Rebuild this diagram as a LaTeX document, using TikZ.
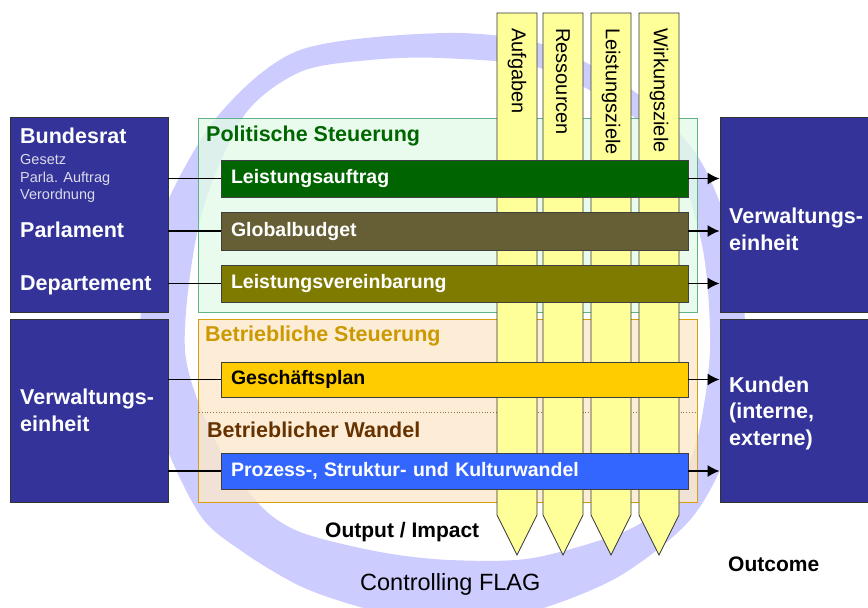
\documentclass[tikz,border=0pt]{standalone}
\usepackage{fontspec}
\setmainfont{Liberation Sans}
\usetikzlibrary{arrows.meta}

\definecolor{unitblue}{HTML}{333399}
\definecolor{ringblue}{HTML}{CCCCFF}
\definecolor{pengelb}{HTML}{FFFF99}
\definecolor{politfill}{HTML}{E2FAE8}
\definecolor{politline}{HTML}{5FB38A}
\definecolor{politgreen}{HTML}{006600}
\definecolor{betrfill}{HTML}{FCE8CC}
\definecolor{betrline}{HTML}{D4A010}
\definecolor{betrgold}{HTML}{CC9900}
\definecolor{wandelbrown}{HTML}{663300}
\definecolor{auftragc}{HTML}{006400}
\definecolor{budgetc}{HTML}{665F35}
\definecolor{vereinbc}{HTML}{7F7A00}
\definecolor{planc}{HTML}{FFCC00}
\definecolor{wandelc}{HTML}{3366FF}
\definecolor{smallgray}{HTML}{DADAEA}

\begin{document}
\begin{tikzpicture}
		[x=1pt,y=-1pt,every node/.style={inner sep=0pt},
		unit/.style={draw=black!80,fill=unitblue,line width=0.8pt},
		panel/.style={line width=1pt,fill opacity=0.8},
		bar/.style={draw=black!75,line width=0.7pt,minimum height=37pt,text width=447pt,inner xsep=10pt,align=left,font=\fontsize{19.5}{22}\bfseries\selectfont,text=white},
		head/.style={anchor=base west,font=\fontsize{21.5}{27}\bfseries\selectfont,text=white,align=left},
		small/.style={anchor=base west,font=\fontsize{14.5}{17}\selectfont,text=smallgray},
		pen/.style={fill=pengelb,draw=black!80,line width=0.7pt},
		link/.style={line width=1.6pt},
		edge/.style={line width=1.6pt,-{Latex[length=12pt,width=12pt]}}]
		\useasboundingbox (0,0) rectangle (868,608);
		
		% controlling ring
		\fill[ringblue,even odd rule]
		plot[smooth cycle] coordinates {(445,33) (545,45) (635,92) (700,160) (738,260) (745,360) (728,450) (690,520) (618,577) (530,612) (440,625) (360,607) (300,586) (243,552) (200,515) (160,430) (140,330) (160,220) (217,117) (300,50)}
		plot[smooth cycle] coordinates {(440,58) (540,68) (628,113) (675,160) (703,250) (710,350) (697,440) (672,495) (628,530) (533,558) (450,560) (380,552) (300,532) (258,503) (215,440) (185,350) (200,220) (243,117) (300,72) (370,60)};
		
		% panels
		\node[panel,draw=politline,fill=politfill,minimum width=499pt,minimum height=194pt] (polit) at (447.5,215) {};
		\node[panel,draw=betrline,fill=betrfill,minimum width=499pt,minimum height=183pt] (betrieb) at (447.5,410.5) {};
		\draw[wandelbrown!70,dotted,line width=0.8pt] (199,412) -- (696,412);
		\node[anchor=base west,font=\fontsize{21.5}{25}\bfseries\selectfont,text=politgreen] (tpolit) at (206,141.5) {Politische Steuerung};
		\node[anchor=base west,font=\fontsize{21.5}{25}\bfseries\selectfont,text=betrgold] (tbetrieb) at (205,341.5) {Betriebliche Steuerung};
		\node[anchor=base west,font=\fontsize{21.5}{25}\bfseries\selectfont,text=wandelbrown] (twandel) at (207,437) {Betrieblicher Wandel};
		
		% pencils
		\foreach \x/\lbl [count=\i] in {497/Aufgaben,543/Ressourcen,591/Leistungsziele,639/Wirkungsziele}{
			\draw[pen] (\x,13) -- (\x+40,13) -- (\x+40,515) -- (\x+20,555) -- (\x,515) -- cycle;
			\node[rotate=-90,anchor=west,font=\fontsize{20}{24}\selectfont] (pen\i) at (\x+20,28) {\lbl};
		}
		
		% bars
		\node[bar,fill=auftragc] (auftrag) at (454.5,178.5) {Leistungsauftrag};
		\node[bar,fill=budgetc,minimum height=38pt] (budget) at (454.5,231) {Globalbudget};
		\node[bar,fill=vereinbc] (vereinb) at (454.5,283.5) {Leistungsvereinbarung};
		\node[bar,fill=planc,text=black,minimum height=35pt] (plan) at (454.5,379.5) {Geschäftsplan};
		\node[bar,fill=wandelc,minimum height=36pt] (wandel) at (454.5,471) {Prozess-, Struktur- und Kulturwandel};
		
		% units left and right
		\node[unit,minimum width=158pt,minimum height=195pt] (lbund) at (89,214.5) {};
		\node[unit,minimum width=158pt,minimum height=183pt] (lverw) at (89,410.5) {};
		\node[unit,minimum width=156pt,minimum height=195pt] (rverw) at (798,214.5) {};
		\node[unit,minimum width=156pt,minimum height=183pt] (rkunden) at (798,410.5) {};
		
		\node[head] (bundesrat) at (20,143) {Bundesrat};
		\node[small] (gesetz) at (20,164) {Gesetz};
		\node[small] (parla) at (20,182) {Parla. Auftrag};
		\node[small] (verord) at (20,199) {Verordnung};
		\node[head] (parlament) at (20,237) {Parlament};
		\node[head] (departement) at (20,290) {Departement};
		% base of a two-line node is its last line
		\node[head] (verwl) at (20,431) {Verwaltungs-\\einheit};
		\node[head] (verwr) at (729,250) {Verwaltungs-\\einheit};
		\node[head,font=\fontsize{21.5}{26.5}\bfseries\selectfont] (kunden) at (729,445) {Kunden\\(interne,\\externe)};
		
		\foreach \from/\to in {lbund/auftrag,lbund/budget,lbund/vereinb,lverw/plan,lverw/wandel}
		\draw[link] (\to.west -| \from.east) -- (\to.west);
		\foreach \from/\to in {auftrag/rverw,budget/rverw,vereinb/rverw,plan/rkunden,wandel/rkunden}
		\draw[edge] (\from.east) -- (\from.east -| \to.west);
		
		\node[anchor=base west,font=\fontsize{21}{25}\bfseries\selectfont] (output) at (325,537.5) {Output / Impact};
		\node[anchor=base west,font=\fontsize{23.5}{28}\selectfont] (flag) at (360,590.5) {Controlling FLAG};
		\node[anchor=base west,font=\fontsize{21}{25}\bfseries\selectfont] (outcome) at (728,571) {Outcome};
\end{tikzpicture}
\end{document}
